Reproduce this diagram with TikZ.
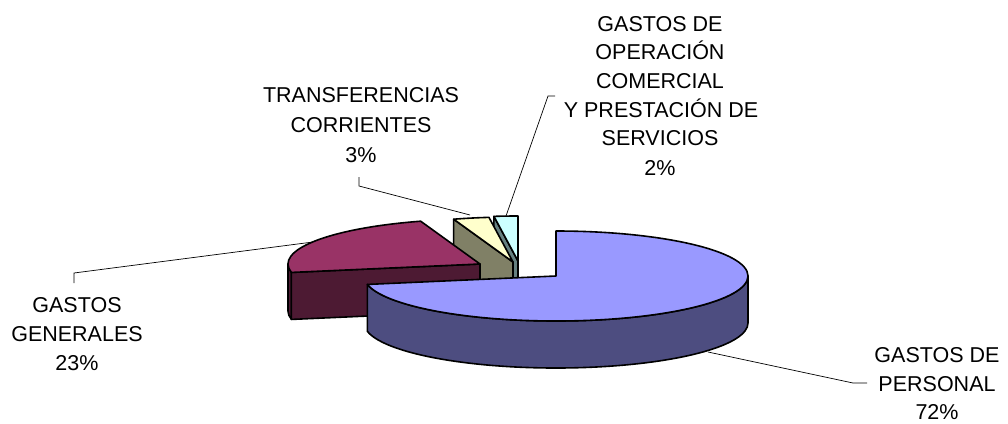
\documentclass[tikz,border=0pt]{standalone}
\usepackage{fontspec}
\setmainfont{Liberation Sans}
\usetikzlibrary{calc}
\definecolor{blueTop}{RGB}{153,153,255}
\definecolor{blueSide}{RGB}{77,77,128}
\definecolor{maroonTop}{RGB}{153,51,102}
\definecolor{maroonSide}{RGB}{77,26,51}
\definecolor{yellowTop}{RGB}{255,255,204}
\definecolor{oliveSide}{RGB}{128,128,102}
\definecolor{cyanTop}{RGB}{204,255,255}
\definecolor{tealSide}{RGB}{102,128,128}
\begin{document}
\begin{tikzpicture}[x=1pt,y=-1pt,
  face/.style={draw=black,line width=1.6pt,line join=round},
  leader/.style={draw=black,line width=0.7pt},
  lbl/.style={anchor=base,inner sep=0pt,font=\fontsize{21.5}{29}\selectfont},
  E/.style={x radius=192,y radius=45}]
\useasboundingbox (0,0) rectangle (1008,423);
% centres of the slices
\coordinate (C) at (518,261);
\coordinate (Y) at (513,262);
\coordinate (M) at (480,264);
\coordinate (B) at (556,276);
% cyan slice (2%)
\path[face,fill=tealSide] (C) -- ++(262.8:192 and 45) -- ++(0,47) -- ($(C)+(0,47)$) -- cycle;
\path[face,fill=cyanTop] (C) -- ++(262.8:192 and 45) arc[E,start angle=262.8,end angle=270] -- cycle;
% yellow slice (3%)
\path[face,fill=oliveSide] (Y) -- ++(252:192 and 45) -- ++(0,47) -- ($(Y)+(0,47)$) -- cycle;
\path[face,fill=yellowTop] (Y) -- ++(252:192 and 45) arc[E,start angle=252,end angle=262.8] -- cycle;
% maroon slice (23%)
\path[face,fill=maroonSide] ($(M)+(169.2:192 and 45)$) arc[E,start angle=169.2,end angle=180] -- ++(0,47) arc[E,start angle=180,end angle=169.2] -- cycle;
\path[face,fill=maroonSide] (M) -- ++(169.2:192 and 45) -- ++(0,47) -- ($(M)+(0,47)$) -- cycle;
\path[face,fill=maroonTop] (M) -- ++(169.2:192 and 45) arc[E,start angle=169.2,end angle=252] -- cycle;
% blue slice (72%)
\path[face,fill=blueSide] ($(B)+(0:192 and 45)$) arc[E,start angle=0,end angle=169.2] -- ++(0,47) arc[E,start angle=169.2,end angle=0] -- cycle;
\path[face,fill=blueTop] (B) -- ++(-90:192 and 45) arc[E,start angle=-90,end angle=169.2] -- cycle;
% labels
\node[lbl] (op1) at (660,31) {GASTOS DE};
\node[lbl] (op2) at (660,59) {OPERACIÓN};
\node[lbl] (op3) at (660,88) {COMERCIAL};
\node[lbl] (op4) at (661,117) {Y PRESTACIÓN DE};
\node[lbl] (op5) at (660,145) {SERVICIOS};
\node[lbl] (op6) at (660,175) {2\%};
\node[lbl] (tr1) at (361,102) {TRANSFERENCIAS};
\node[lbl] (tr2) at (361,132) {CORRIENTES};
\node[lbl] (tr3) at (361,162) {3\%};
\node[lbl] (ge1) at (77,312) {GASTOS};
\node[lbl] (ge2) at (77,341) {GENERALES};
\node[lbl] (ge3) at (77,370) {23\%};
\node[lbl] (pe1) at (937,362) {GASTOS DE};
\node[lbl] (pe2) at (937,391) {PERSONAL};
\node[lbl] (pe3) at (937,419) {72\%};
% leader lines
\coordinate (opA) at (506,216); \coordinate (opB) at (548,96); \coordinate (opC) at (555,96);
\coordinate (trA) at (470,215); \coordinate (trB) at (359,186); \coordinate (trC) at (359,177);
\coordinate (geA) at (313,242); \coordinate (geB) at (74,273); \coordinate (geC) at (74,283);
\coordinate (peA) at (708,352); \coordinate (peB) at (853,383); \coordinate (peC) at (867,383);
\draw[leader] (opA) -- (opB) -- (opC);
\draw[leader] (trA) -- (trB) -- (trC);
\draw[leader] (geA) -- (geB) -- (geC);
\draw[leader] (peA) -- (peB) -- (peC);
\end{tikzpicture}
\end{document}
